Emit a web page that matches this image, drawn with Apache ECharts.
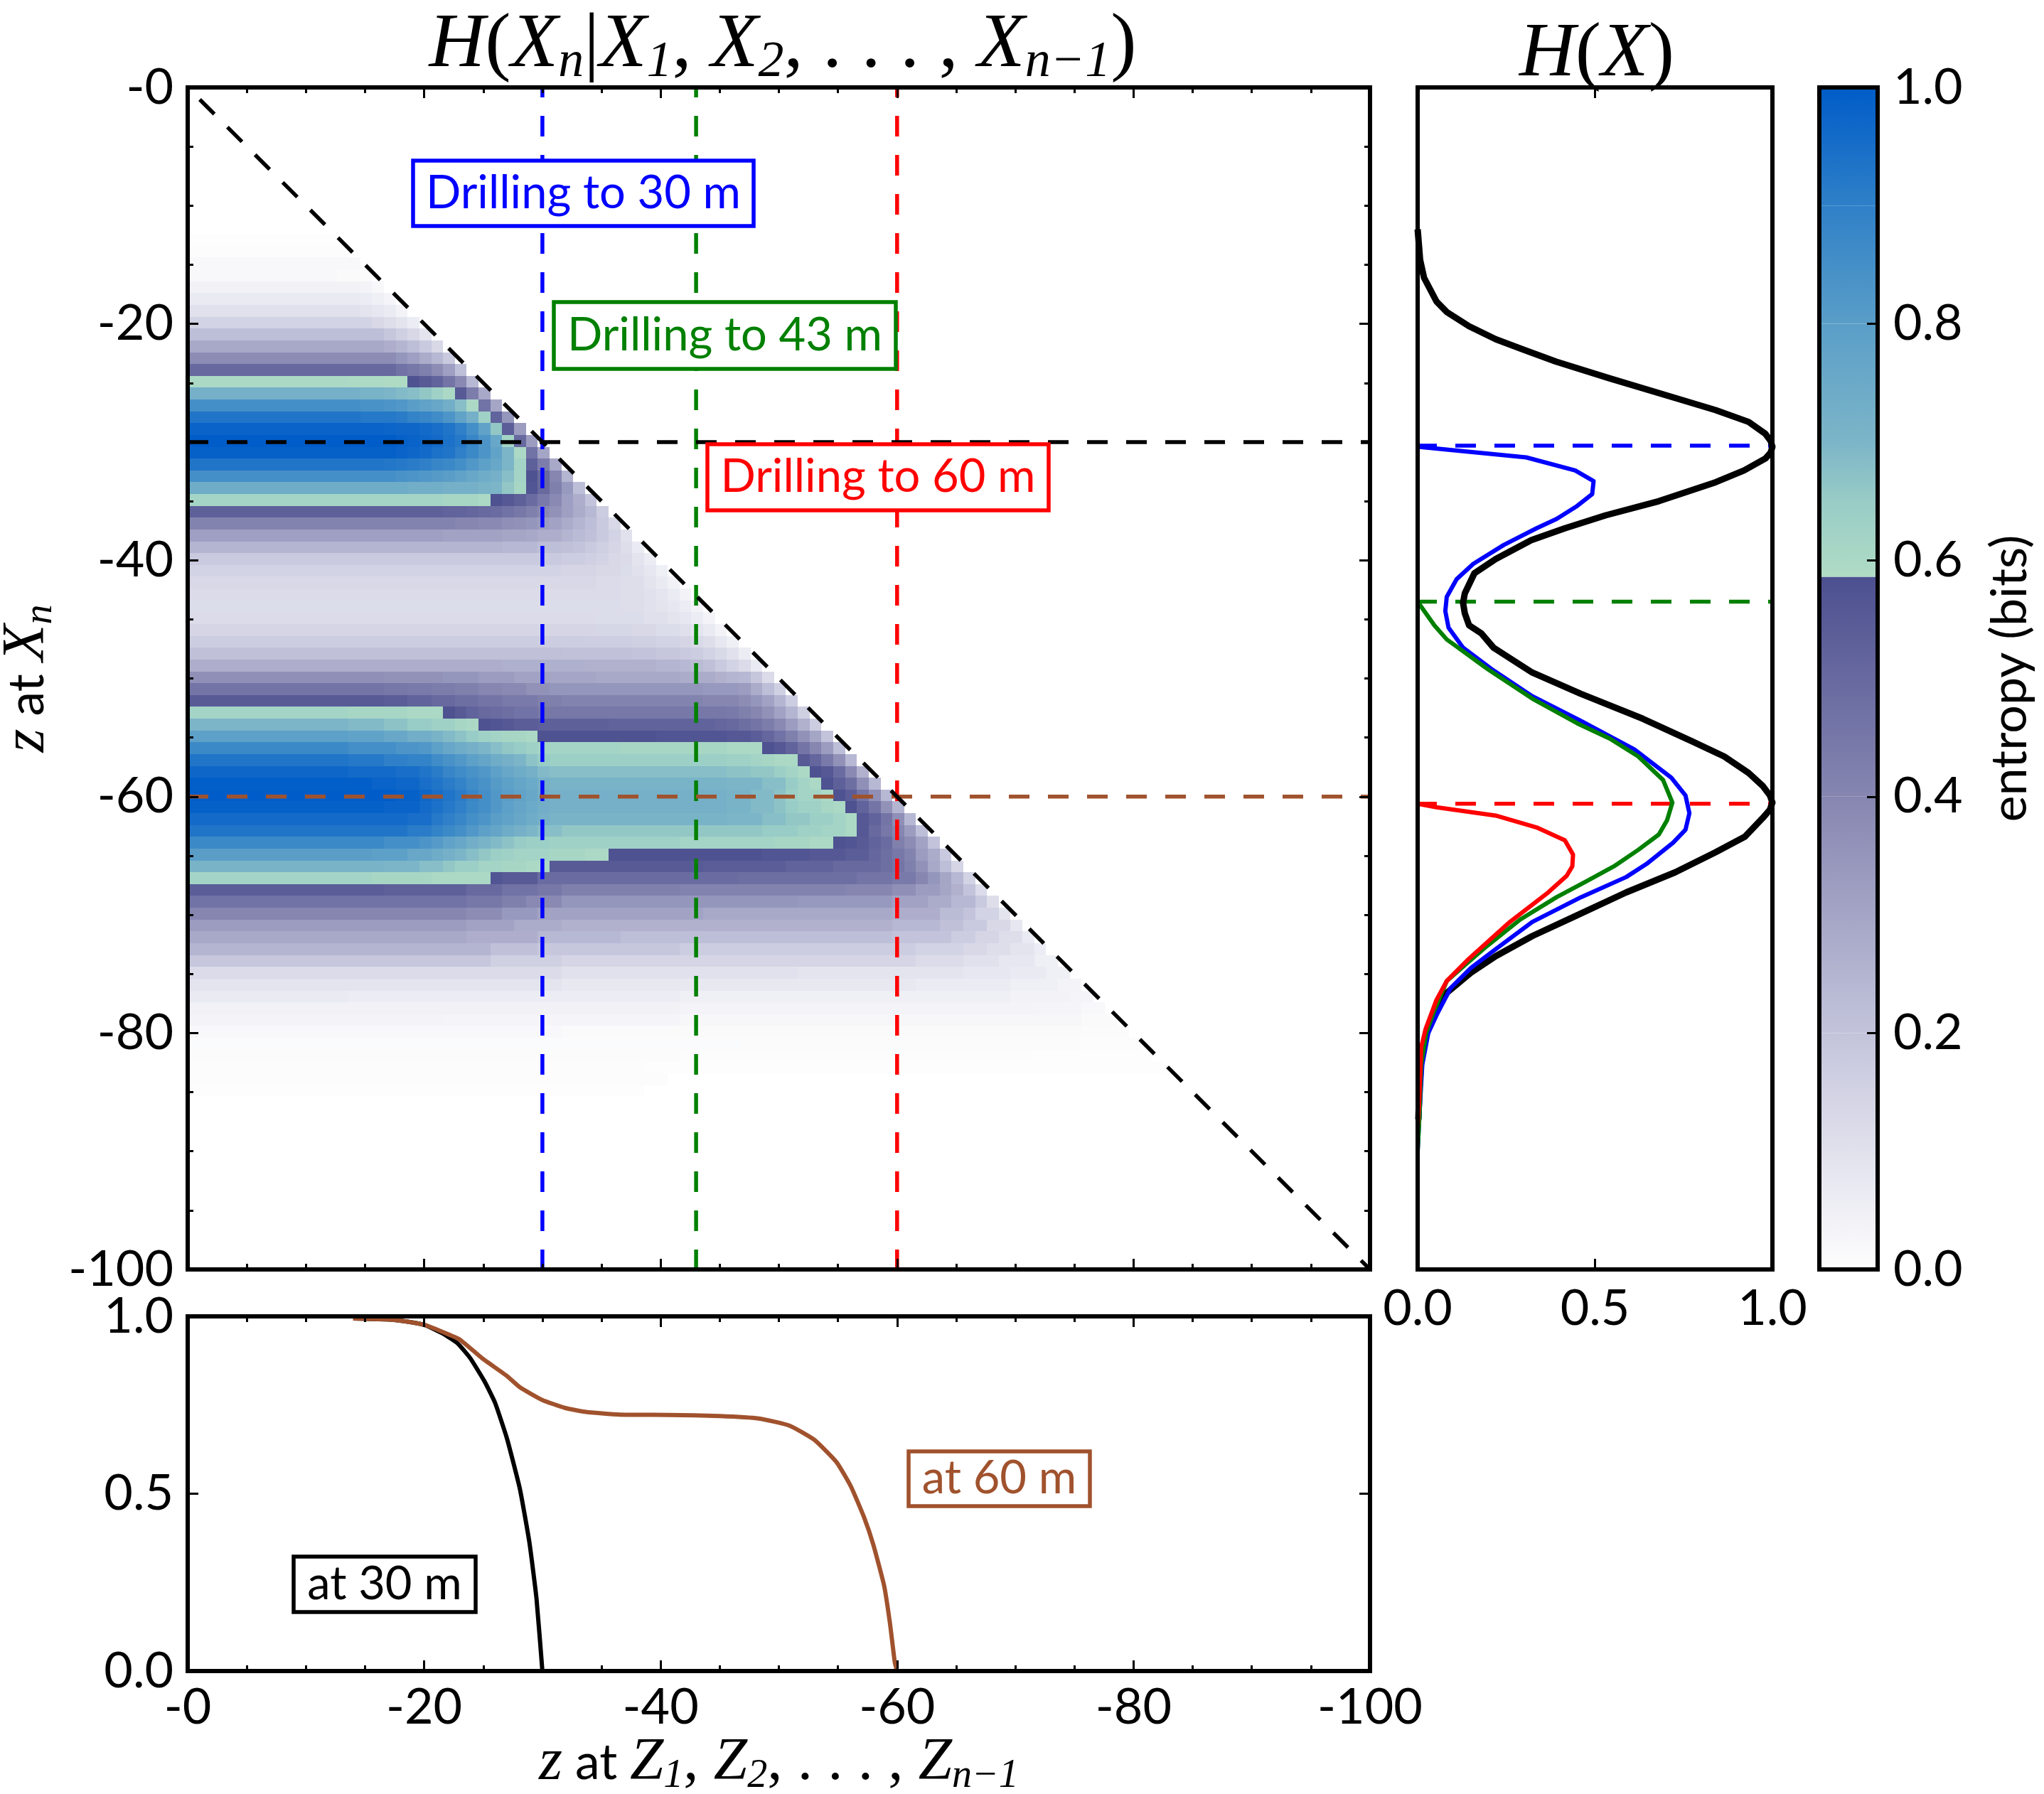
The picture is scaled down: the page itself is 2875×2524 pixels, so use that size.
<!DOCTYPE html>
<html>
<head>
<meta charset="utf-8">
<style>
  html, body { margin: 0; padding: 0; background: #fff; }
  #chart { width: 2875px; height: 2524px; }
</style>
<script src="https://cdn.jsdelivr.net/npm/echarts@6/dist/echarts.min.js"></script>
</head>
<body>
<div id="chart"></div>
<script>
/* ---------- data ---------- */

// H(X): depth in m, entropy in bits
const priorCurve = [[12,0],[14.6,.007],[16.1,.018],[18.1,.053],[19,.082],[20.2,.145],[21.3,.22],[22.2,.3],[23.2,.39],[24.6,.54],[26.4,.74],[27.3,.84],[28.3,.933],[29.3,.98],[29.9,.995],[30.4,1],[30.9,.995],[31.4,.98],[32.4,.92],[33.4,.84],[35,.68],[36.2,.53],[37.3,.415],[38.3,.32],[39.9,.22],[41.1,.16],[42.8,.133],[43.6,.128],[44.5,.133],[45.5,.145],[46.2,.18],[47.4,.214],[49.5,.323],[51.3,.46],[53.4,.634],[55.3,.772],[56.6,.864],[58,.933],[59.1,.973],[59.9,.993],[60.5,1],[61.1,.993],[61.8,.973],[63.4,.922],[64.7,.84],[66.4,.726],[68.1,.588],[70.2,.438],[71.8,.323],[73.5,.22],[74.9,.15],[76.6,.082],[78.5,.047],[80,.024],[82.3,.01],[84.6,.005],[87.3,.002]];
const after30Curve = [[30.4,0],[31.3,.306],[32.4,.444],[33.3,.496],[34.4,.492],[35.4,.45],[36.5,.392],[37.3,.335],[38.7,.243],[40.3,.157],[41.6,.11],[43.1,.082],[44.3,.078],[45.7,.087],[47.4,.128],[49.2,.208],[51.5,.323],[53.6,.461],[56,.611],[58.4,.715],[59.9,.755],[61.4,.766],[62.8,.755],[63.9,.72],[65.7,.645],[66.8,.588],[68.5,.461],[70.6,.323],[72.9,.22],[74.5,.15],[76.2,.093],[78.5,.053],[80,.03],[82.7,.013],[86.9,.005],[90,0]];
const after43Curve = [[43.5,0],[45.5,.047],[46.7,.082],[47.2,.105],[49.2,.197],[51.7,.323],[53.8,.45],[55.1,.542],[56.6,.622],[58.6,.692],[60.5,.718],[62,.703],[63.2,.68],[64.5,.622],[65.9,.553],[67.2,.473],[68.5,.392],[70.4,.289],[72.6,.197],[74.1,.139],[75.6,.082],[78.1,.047],[80,.024],[82.7,.01],[87,.005],[90,0]];
const after60Curve = [[60.6,0],[60.9,.053],[61.6,.22],[62.6,.335],[63.7,.415],[64.9,.438],[65.9,.436],[66.7,.42],[68.1,.368],[70.6,.26],[73.7,.145],[75.6,.082],[77.2,.053],[79.7,.022],[81.2,.01],[85.4,.005],[88,0]];

// lower panel: depth in m, value
const at30Curve = [[14,.994],[17.1,.991],[18.8,.984],[20.1,.975],[21.5,.953],[22.8,.925],[23.9,.882],[25.1,.817],[26,.756],[27,.656],[28.1,.513],[28.9,.363],[29.5,.205],[30,0]];
const at60Curve = [[14,.994],[17.1,.991],[18.8,.984],[20.1,.975],[21.5,.957],[23,.935],[24.9,.882],[27,.832],[28.1,.8],[30,.764],[31.9,.742],[33.6,.731],[36.5,.723],[40.7,.722],[45,.719],[48.3,.712],[50.9,.692],[53,.652],[54.9,.588],[56.1,.52],[57.2,.434],[58,.355],[58.9,.241],[59.4,.134],[59.8,.026],[60,0]];

const drillDepths = [30, 43, 60];
const drillColors = ['#0000ff', '#008000', '#ff0000'];
const wellHorizontals = [30, 60];
const wellColors = ['#000000', '#a0522d'];
const stopDepths = [30.3, 43.5, 60.6]; // dashed lines in the H(X) panel

// colour scale, with the jump at 0.586
const cmapStops = [[0,'#fefefe'],[.2,'#c3c4db'],[.4,'#8686b1'],[.586,'#4d5090'],[.586,'#b0dcc5'],[.65,'#98ccc6'],[.7,'#7cb5c8'],[.8,'#5a9ec8'],[.9,'#2f80c8'],[1,'#005cc8']];

// conditional entropy cells, one entry per row starting at heatFirstRow.
// each row is value, lastColumn, value, lastColumn ... (run lengths)
const heatFirstRow = 12;
const heatRows = [
  [.003,11],
  [.006,12],
  [.02,13],
  [.02,11,.015,13,.01,14],
  [.045,13,.035,14,.02,15],
  [.07,13,.06,14,.05,15,.03,16],
  [.10,13,.09,14,.08,15,.065,16,.04,17],
  [.15,14,.13,15,.11,16,.09,17,.06,18],
  [.22,15,.19,16,.16,17,.13,18,.09,19],
  [.29,15,.27,16,.25,17,.22,18,.18,19,.13,20],
  [.38,16,.35,17,.32,18,.28,19,.24,20,.18,21],
  [.50,16,.47,17,.45,18,.42,19,.38,20,.32,21,.22,22],
  [.60,12,.595,15,.59,17,.58,18,.55,19,.52,20,.46,21,.39,22,.24,23],
  [.72,13,.71,15,.70,16,.69,17,.68,18,.66,19,.63,20,.60,21,.55,22,.43,23,.29,24],
  [.85,13,.84,15,.83,16,.82,17,.80,18,.78,19,.76,20,.73,21,.68,22,.60,23,.47,24,.30,25],
  [.93,13,.92,16,.91,17,.89,18,.88,19,.86,20,.83,21,.78,22,.72,23,.63,24,.52,25,.35,26],
  [.98,15,.975,16,.97,18,.96,19,.95,20,.93,21,.90,22,.85,23,.78,24,.66,25,.54,26,.33,27],
  [1,16,.99,17,.98,18,.97,19,.96,20,.94,21,.92,22,.88,23,.83,24,.76,25,.62,26,.50,27,.33,28],
  [.99,16,.98,17,.97,18,.96,19,.94,20,.93,21,.90,22,.87,23,.83,24,.78,25,.70,26,.60,27,.47,28,.30,29],
  [.93,15,.925,16,.92,17,.91,18,.90,19,.88,20,.87,21,.85,22,.82,23,.79,24,.76,25,.70,26,.62,27,.53,28,.43,29,.29,30],
  [.85,16,.84,17,.83,18,.82,19,.81,20,.80,21,.78,22,.76,23,.74,24,.72,25,.68,26,.62,27,.58,28,.50,29,.40,30,.25,31],
  [.74,17,.73,20,.72,23,.71,24,.70,25,.66,26,.61,27,.57,28,.50,29,.42,30,.34,31,.22,32],
  [.62,20,.61,23,.60,24,.58,25,.56,26,.53,27,.49,28,.44,29,.39,30,.32,31,.27,32,.20,33],
  [.53,20,.52,22,.51,23,.50,24,.49,25,.47,26,.45,27,.42,28,.39,29,.36,30,.32,31,.28,32,.24,33,.17,34],
  [.41,21,.40,23,.39,25,.37,26,.36,27,.35,28,.33,29,.31,30,.28,31,.25,32,.22,33,.18,34,.13,35],
  [.32,20,.31,25,.30,27,.29,28,.27,30,.25,31,.23,32,.21,33,.18,34,.15,35,.10,36],
  [.25,25,.24,28,.22,30,.21,31,.20,32,.18,33,.16,34,.14,35,.11,36,.07,37],
  [.18,30,.17,32,.16,33,.15,34,.13,35,.12,36,.09,37,.06,38],
  [.15,30,.14,33,.13,35,.115,36,.10,37,.08,38,.05,39],
  [.13,33,.12,35,.11,37,.09,38,.07,39,.045,40],
  [.12,35,.11,37,.10,38,.085,39,.065,40,.04,41],
  [.115,35,.11,37,.10,38,.09,39,.08,40,.06,41,.04,42],
  [.12,33,.115,37,.105,39,.09,40,.08,41,.06,42,.035,43],
  [.14,33,.135,36,.13,38,.115,40,.105,41,.09,42,.07,43,.04,44],
  [.17,32,.165,36,.16,38,.15,40,.14,41,.125,42,.11,43,.08,44,.05,45],
  [.21,30,.205,36,.20,38,.19,40,.18,41,.17,42,.15,43,.125,44,.10,45,.06,46],
  [.27,25,.265,32,.26,38,.25,40,.24,41,.23,42,.21,43,.18,44,.15,45,.12,46,.07,47],
  [.37,15,.36,20,.35,23,.33,26,.31,29,.30,33,.29,40,.28,43,.26,44,.25,45,.24,46,.19,47,.12,48],
  [.46,15,.45,17,.44,19,.43,21,.42,23,.40,25,.39,27,.36,29,.35,42,.34,45,.33,46,.28,47,.22,48,.16,49],
  [.55,15,.54,17,.52,19,.50,21,.48,23,.46,25,.44,28,.42,30,.41,42,.40,45,.38,46,.35,47,.31,48,.25,49,.17,50],
  [.62,12,.61,17,.60,20,.58,21,.55,22,.52,23,.50,24,.49,25,.48,26,.47,28,.45,44,.44,45,.42,46,.40,47,.36,48,.31,49,.25,50,.16,51],
  [.70,12,.69,15,.67,17,.65,19,.63,21,.61,22,.60,23,.58,24,.57,25,.56,26,.54,28,.53,34,.52,43,.51,44,.50,45,.48,46,.46,47,.43,48,.39,49,.33,50,.26,51,.17,52],
  [.79,12,.78,15,.76,17,.73,19,.71,20,.69,21,.67,22,.65,23,.63,24,.62,25,.61,27,.60,28,.58,38,.57,44,.56,46,.54,47,.51,48,.47,49,.42,50,.36,51,.30,52,.20,53],
  [.87,12,.85,16,.83,18,.82,19,.79,20,.76,21,.74,22,.72,23,.70,24,.68,25,.66,26,.65,27,.63,28,.62,35,.61,44,.60,47,.58,48,.56,49,.52,50,.46,51,.40,52,.33,53,.22,54],
  [.93,12,.92,15,.90,17,.89,19,.86,20,.84,21,.82,22,.79,23,.77,24,.74,25,.72,26,.70,27,.67,28,.65,29,.64,44,.63,46,.62,47,.61,48,.60,50,.55,51,.51,52,.44,53,.36,54,.24,55],
  [.97,12,.96,16,.95,18,.93,19,.91,20,.88,21,.86,22,.84,23,.82,24,.79,25,.76,26,.74,27,.72,28,.69,29,.68,44,.67,46,.66,48,.64,49,.62,50,.60,51,.58,52,.56,53,.49,54,.39,55,.26,56],
  [.995,14,.98,16,.97,18,.95,19,.93,20,.91,21,.89,22,.86,23,.84,24,.81,25,.79,26,.77,27,.75,28,.72,29,.71,44,.70,47,.68,49,.65,50,.62,51,.60,52,.58,53,.53,54,.48,55,.37,56,.24,57],
  [1,16,.99,18,.97,19,.95,20,.93,21,.91,22,.88,23,.85,24,.82,25,.80,26,.78,27,.76,28,.73,29,.72,44,.71,46,.69,48,.67,49,.64,50,.62,52,.60,53,.58,54,.54,55,.46,56,.37,57,.24,58],
  [.99,15,.98,18,.96,19,.94,20,.92,21,.90,22,.87,23,.85,24,.82,25,.79,26,.77,27,.75,28,.73,29,.72,44,.71,46,.69,48,.67,49,.65,50,.63,52,.61,53,.60,54,.58,55,.52,56,.46,57,.36,58,.25,59],
  [.96,17,.95,19,.92,20,.90,21,.88,22,.85,23,.83,24,.80,25,.78,26,.76,27,.74,28,.72,29,.71,44,.70,47,.68,49,.66,51,.64,53,.62,54,.60,55,.56,56,.52,57,.46,58,.37,59,.24,60],
  [.93,17,.91,19,.89,20,.87,21,.85,22,.82,23,.79,24,.77,25,.74,26,.72,27,.70,28,.68,30,.66,47,.65,50,.63,52,.62,54,.60,55,.56,56,.50,57,.45,58,.40,59,.33,60,.22,61],
  [.87,15,.85,18,.83,19,.81,20,.78,21,.76,22,.73,23,.71,24,.69,25,.67,26,.65,27,.64,29,.63,40,.62,48,.61,51,.60,53,.58,54,.57,55,.55,56,.52,57,.49,58,.42,59,.38,60,.31,61,.20,62],
  [.80,14,.79,17,.76,19,.74,20,.72,21,.70,22,.68,23,.66,24,.64,25,.63,26,.62,29,.61,32,.60,34,.58,47,.57,51,.56,54,.54,56,.51,57,.48,58,.45,59,.41,60,.33,61,.28,62,.18,63],
  [.71,15,.70,18,.68,20,.66,21,.64,23,.62,25,.61,27,.60,29,.55,42,.54,49,.52,53,.50,57,.48,58,.46,59,.42,60,.36,61,.29,62,.22,63,.14,64],
  [.62,14,.61,19,.60,24,.57,25,.55,28,.49,45,.48,55,.46,58,.44,60,.40,61,.35,62,.30,63,.24,64,.15,65],
  [.54,15,.53,22,.50,25,.47,28,.45,30,.42,40,.41,54,.40,58,.37,60,.33,62,.30,63,.26,64,.20,65,.12,66],
  [.47,22,.45,25,.42,27,.39,30,.35,50,.34,58,.31,61,.28,63,.24,65,.18,66,.11,67],
  [.40,22,.38,25,.34,28,.31,42,.29,58,.27,62,.23,64,.20,65,.15,67,.09,68],
  [.33,22,.31,26,.28,30,.26,58,.24,62,.21,64,.18,66,.13,68,.08,69],
  [.29,22,.27,28,.24,35,.22,58,.20,63,.17,65,.14,67,.11,69,.07,70],
  [.25,24,.21,28,.19,40,.17,60,.15,64,.13,66,.11,68,.09,70,.06,71],
  [.19,24,.16,30,.14,60,.12,64,.10,67,.08,70,.05,72],
  [.12,30,.10,50,.09,64,.08,68,.07,71,.05,73],
  [.09,30,.075,60,.065,68,.05,72,.035,74],
  [.07,12,.06,40,.05,68,.04,73,.03,75],
  [.045,40,.035,70,.03,74,.02,76],
  [.035,20,.03,40,.025,74,.015,77],
  [.02,30,.015,74,.01,78],
  [.012,45,.01,74,.006,79],
  [.01,40,.007,70,.004,80],
  [.008,37,.005,60,.003,81],
  [.006,39],
  [.004,23,.002,37]
];

/* ---------- helpers ---------- */
const chart = echarts.init(document.getElementById('chart'));

const SANS = 'Lato';
const SERIF = 'Liberation Serif';
const TICK_FONT = 70;

// cells do not start on whole metres in the picture
const colEdge = 0.6, rowEdge = 0.4;

function cmap(v) {
  for (let i = 0; i < cmapStops.length - 1; i++) {
    const a = cmapStops[i], b = cmapStops[i + 1];
    if (v <= b[0] && b[0] > a[0]) {
      return echarts.color.lerp((v - a[0]) / (b[0] - a[0]), [a[1], b[1]]);
    }
  }
  return cmapStops[cmapStops.length - 1][1];
}

const heatCells = [];
heatRows.forEach((row, i) => {
  let col = -1;
  for (let k = 0; k < row.length; k += 2) {
    for (; col <= row[k + 1]; col++) heatCells.push([col, heatFirstRow + i, row[k]]);
  }
});

const depthLabel = v => (v === 0 ? '-0' : String(v));
const fixedLabel = v => v.toFixed(1);

function axis(gridIndex, position, cfg) {
  const a = {
    type: 'value', gridIndex, position, min: cfg.min, max: cfg.max, inverse: !!cfg.inverse,
    interval: cfg.interval, z: 10, silent: true, scale: false,
    axisLine: { show: true, onZero: false, lineStyle: { color: '#000', width: 6, cap: 'square' } },
    axisTick: { show: !!cfg.ticks, inside: true, length: 15, lineStyle: { color: '#000', width: 3 } },
    minorTick: { show: !!cfg.minor, splitNumber: 4, length: 8, lineStyle: { color: '#000', width: 3 } },
    splitLine: { show: false }, minorSplitLine: { show: false },
    axisLabel: { show: false }
  };
  if (cfg.format) {
    a.axisLabel = {
      show: true, formatter: cfg.format, margin: cfg.margin || 20, color: '#000',
      fontFamily: SANS, fontSize: TICK_FONT, hideOverlap: false,
      showMinLabel: true, showMaxLabel: true
    };
  }
  if (cfg.name) {
    a.name = cfg.name; a.nameLocation = 'middle'; a.nameGap = cfg.nameGap;
    a.nameRotate = cfg.nameRotate; a.nameTextStyle = cfg.nameTextStyle;
  }
  return a;
}

const mathRich = size => ({
  m: { fontFamily: SERIF, fontStyle: 'italic', fontWeight: 'normal', fontSize: size, lineHeight: size * 1.1, color: '#000' },
  r: { fontFamily: SERIF, fontWeight: 'normal', fontSize: size, lineHeight: size * 1.1, color: '#000' },
  s: { fontFamily: SERIF, fontStyle: 'italic', fontWeight: 'normal', fontSize: size * 0.66, lineHeight: size * 0.42, verticalAlign: 'bottom', color: '#000' },
  t: { fontFamily: SANS, fontWeight: 'normal', fontSize: size * 0.82, lineHeight: size * 1.1, color: '#000' }
});

function dashed(name, data, color, xi, yi, offset) {
  return {
    name, type: 'line', xAxisIndex: xi, yAxisIndex: yi, data, showSymbol: false, symbol: 'none',
    silent: true, z: 4,
    lineStyle: { color, width: 5.5, type: [29, 26], dashOffset: offset || 0, cap: 'butt' }
  };
}

function curve(name, points, color, width, xi, yi, toPoint, smooth) {
  return {
    name, type: 'line', xAxisIndex: xi, yAxisIndex: yi, data: points.map(toPoint),
    showSymbol: false, symbol: 'none', silent: true, z: 5, smooth: smooth || false,
    lineStyle: { color, width, join: 'round' }
  };
}

function box(x0, y0, x1, y1, color, label, fontSize) {
  return [
    { type: 'rect', z: 50, shape: { x: x0, y: y0, width: x1 - x0, height: y1 - y0 },
      style: { fill: '#fff', stroke: color, lineWidth: 5.5 } },
    { type: 'text', z: 51, style: { x: (x0 + x1) / 2, y: (y0 + y1) / 2, text: label, fill: color,
      fontFamily: SANS, fontSize, align: 'center', verticalAlign: 'middle' } }
  ];
}

/* ---------- axes: 0 main, 1 H(X), 2 lower panel, 3 colour bar ---------- */
const depthCfg = { min: -100, max: 0, interval: 20, ticks: true, minor: true };
const xAxes = [
  axis(0, 'bottom', { ...depthCfg, inverse: true }),
  axis(0, 'top', { ...depthCfg, inverse: true }),
  axis(1, 'bottom', { min: 0, max: 1, interval: .5, ticks: true, format: fixedLabel, margin: 20 }),
  axis(1, 'top', { min: 0, max: 1, interval: .5, ticks: true }),
  axis(2, 'bottom', { ...depthCfg, inverse: true, format: depthLabel, margin: 16,
    name: '{m|z}{t| at }{m|Z}{s|1}{r|, }{m|Z}{s|2}{r|, . . . , }{m|Z}{s|n\u22121}',
    nameGap: 83, nameTextStyle: { rich: mathRich(85) } }),
  axis(2, 'top', { ...depthCfg, inverse: true }),
  axis(3, 'bottom', { min: 0, max: 1 }),
  axis(3, 'top', { min: 0, max: 1 })
];
const yAxes = [
  axis(0, 'left', { ...depthCfg, format: depthLabel,
    name: '{m|z}{t| at }{m|X}{s|n}', nameGap: 164, nameRotate: 90, nameTextStyle: { rich: mathRich(85) } }),
  axis(0, 'right', depthCfg),
  axis(1, 'left', { min: -100, max: 0 }),
  axis(1, 'right', { min: -100, max: 0 }),
  axis(2, 'left', { min: 0, max: 1, interval: .5, ticks: true, format: fixedLabel }),
  axis(2, 'right', { min: 0, max: 1, interval: .5, ticks: true }),
  axis(3, 'left', { min: 0, max: 1 }),
  axis(3, 'right', { min: 0, max: 1, interval: .2, ticks: true, format: fixedLabel, margin: 22,
    name: 'entropy (bits)', nameGap: 151, nameRotate: 90,
    nameTextStyle: { fontFamily: SANS, fontSize: 70, color: '#000' } })
];

/* ---------- series ---------- */
const series = [];

series.push({
  name: 'conditional entropy', type: 'custom', xAxisIndex: 0, yAxisIndex: 0, clip: true, silent: true, z: 2,
  progressive: 0, data: heatCells, encode: { x: 0, y: 1 },
  renderItem(params, api) {
    const c = api.value(0), r = api.value(1);
    const p0 = api.coord([-(c + colEdge), -(r + rowEdge)]);
    const p1 = api.coord([-(c + 1 + colEdge), -(r + 1 + rowEdge)]);
    const x0 = Math.round(p0[0]), y0 = Math.round(p0[1]);
    return { type: 'rect', shape: { x: x0, y: y0, width: Math.round(p1[0]) - x0, height: Math.round(p1[1]) - y0 },
      style: { fill: cmap(api.value(2)) } };
  }
});

drillDepths.forEach((d, i) => {
  series.push(dashed('drill ' + d, [[-d, 0], [-d, -100]], drillColors[i], 0, 0, 15));
});
wellHorizontals.forEach((d, i) => {
  series.push(dashed('well ' + d, [[0, -d], [-100, -d]], wellColors[i], 0, 0, 0));
});
series.push(dashed('diagonal', [[0, 0], [-100, -100]], '#000', 0, 0, 31));

const onRight = p => [p[1], -p[0]];
const onLower = p => [-p[0], p[1]];

stopDepths.forEach((d, i) => {
  series.push(dashed('stop ' + d, [[0, -d], [1, -d]], drillColors[i], 2, 2, 2));
});
series.push(curve('H(X)', priorCurve, '#000', 9, 2, 2, onRight));
series.push(curve('after 30 m', after30Curve, '#0000ff', 6, 2, 2, onRight));
series.push(curve('after 43 m', after43Curve, '#008000', 6, 2, 2, onRight));
series.push(curve('after 60 m', after60Curve, '#ff0000', 6, 2, 2, onRight));

series.push(curve('at 30 m', at30Curve, '#000', 6, 4, 4, onLower, 0.15));
series.push(curve('at 60 m', at60Curve, '#a0522d', 6, 4, 4, onLower, 0.15));

// colour bar, one gradient piece between each pair of scale stops
const barPieces = [];
cmapStops.forEach((s, i) => {
  if (i && cmapStops[i - 1][0] < s[0]) barPieces.push([i - 1, cmapStops[i - 1][0], s[0]]);
});
series.push({
  name: 'colour bar', type: 'custom', xAxisIndex: 6, yAxisIndex: 6, clip: true, silent: true, z: 2,
  data: barPieces, encode: { y: [1, 2] },
  renderItem(params, api) {
    const i = api.value(0);
    const p0 = api.coord([0, api.value(2)]);
    const p1 = api.coord([1, api.value(1)]);
    return { type: 'rect', shape: { x: p0[0], y: p0[1], width: p1[0] - p0[0], height: p1[1] - p0[1] },
      style: { fill: new echarts.graphic.LinearGradient(0, 1, 0, 0, [
        { offset: 0, color: cmapStops[i][1] }, { offset: 1, color: cmapStops[i + 1][1] }]) } };
  }
});

/* ---------- option ---------- */
chart.setOption({
  animation: false,
  backgroundColor: '#fff',
  title: [
    { text: '{m|H}{r|(}{m|X}{s|n}{r||}{m|X}{s|1}{r|, }{m|X}{s|2}{r|, . . . , }{m|X}{s|n\u22121}{r|)}',
      left: 1096, top: -1, textAlign: 'center', textStyle: { fontWeight: 'normal', rich: mathRich(109) } },
    { text: '{m|H}{r|(}{m|X}{r|)}',
      left: 2241, top: 12, textAlign: 'center', textStyle: { fontWeight: 'normal', rich: mathRich(109) } }
  ],
  grid: [
    { left: 264, top: 123, width: 1663, height: 1663, outerBoundsMode: 'none' },
    { left: 1994, top: 123, width: 499, height: 1663, outerBoundsMode: 'none' },
    { left: 264, top: 1852, width: 1663, height: 499, outerBoundsMode: 'none' },
    { left: 2559, top: 123, width: 82, height: 1663, outerBoundsMode: 'none' }
  ],
  xAxis: xAxes,
  yAxis: yAxes,
  series,
  graphic: [
    ...box(581, 226, 1060, 318, '#0000ff', 'Drilling to 30 m', 65),
    ...box(779, 425, 1260, 519, '#008000', 'Drilling to 43 m', 65),
    ...box(995, 625, 1475, 718, '#ff0000', 'Drilling to 60 m', 65),
    ...box(413, 2190, 669, 2268, '#000', 'at 30 m', 65),
    ...box(1278, 2042, 1533, 2119, '#a0522d', 'at 60 m', 65)
  ]
});
</script>
</body>
</html>
